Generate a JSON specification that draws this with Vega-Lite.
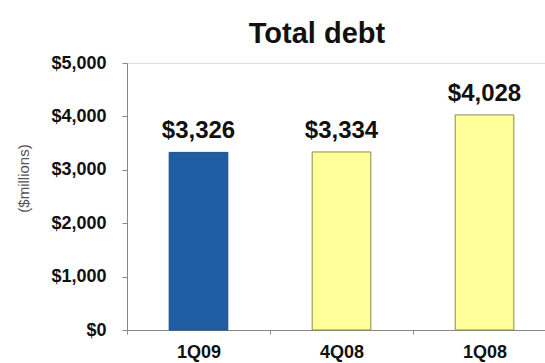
{
  "$schema": "https://vega.github.io/schema/vega-lite/v6.json",
  "autosize": "none",
  "width": 418,
  "height": 267,
  "padding": {"left": 127, "top": 63, "right": 0, "bottom": 33},
  "background": "white",
  "title": {
    "text": "Total debt",
    "font": "Liberation Sans",
    "fontSize": 29,
    "fontWeight": "bold",
    "color": "#111111",
    "anchor": "middle",
    "dx": -19,
    "offset": 5
  },
  "data": {
    "values": [
      {"quarter": "1Q09", "debt": 3326, "label": "$3,326", "highlight": "current"},
      {"quarter": "4Q08", "debt": 3334, "label": "$3,334", "highlight": "prior"},
      {"quarter": "1Q08", "debt": 4028, "label": "$4,028", "highlight": "prior"}
    ]
  },
  "encoding": {
    "x": {
      "field": "quarter",
      "type": "nominal",
      "sort": null,
      "scale": {"paddingInner": 0, "paddingOuter": 0, "range": [0, 429]},
      "axis": {
        "title": null,
        "labelAngle": 0,
        "labelFont": "Liberation Sans",
        "labelFontSize": 18,
        "labelFontWeight": "bold",
        "labelColor": "#111111",
        "labelPadding": 9,
        "tickBand": "extent",
        "tickSize": 4,
        "tickColor": "#888888",
        "domainColor": "#888888",
        "grid": false
      }
    }
  },
  "layer": [
    {
      "mark": {"type": "bar", "width": {"band": 0.41}, "strokeWidth": 1},
      "encoding": {
        "y": {
          "field": "debt",
          "type": "quantitative",
          "scale": {"domain": [0, 5000], "nice": false},
          "axis": {
            "values": [0, 1000, 2000, 3000, 4000, 5000],
            "labelExpr": "'$' + format(datum.value, ',')",
            "labelFont": "Liberation Sans",
            "labelFontSize": 18,
            "labelFontWeight": "bold",
            "labelColor": "#111111",
            "labelPadding": 16,
            "tickSize": 5,
            "tickColor": "#888888",
            "domainColor": "#888888",
            "grid": false,
            "title": "($millions)",
            "titleFont": "Liberation Sans",
            "titleFontSize": 15,
            "titleFontWeight": "normal",
            "titleColor": "#555555",
            "titleAngle": -90,
            "titleX": -104,
            "titleY": 115,
            "titleAlign": "center",
            "titleBaseline": "middle"
          }
        },
        "fill": {
          "field": "highlight",
          "type": "nominal",
          "scale": {"domain": ["current", "prior"], "range": ["#1F5EA3", "#FFFF99"]},
          "legend": null
        },
        "stroke": {
          "field": "highlight",
          "type": "nominal",
          "scale": {"domain": ["current", "prior"], "range": ["#1A4E88", "#8A8A55"]},
          "legend": null
        }
      }
    },
    {
      "mark": {
        "type": "text",
        "font": "Liberation Sans",
        "fontSize": 24,
        "fontWeight": "bold",
        "color": "#111111",
        "baseline": "alphabetic",
        "dy": -14
      },
      "encoding": {
        "y": {"field": "debt", "type": "quantitative"},
        "text": {"field": "label"}
      }
    }
  ]
}
